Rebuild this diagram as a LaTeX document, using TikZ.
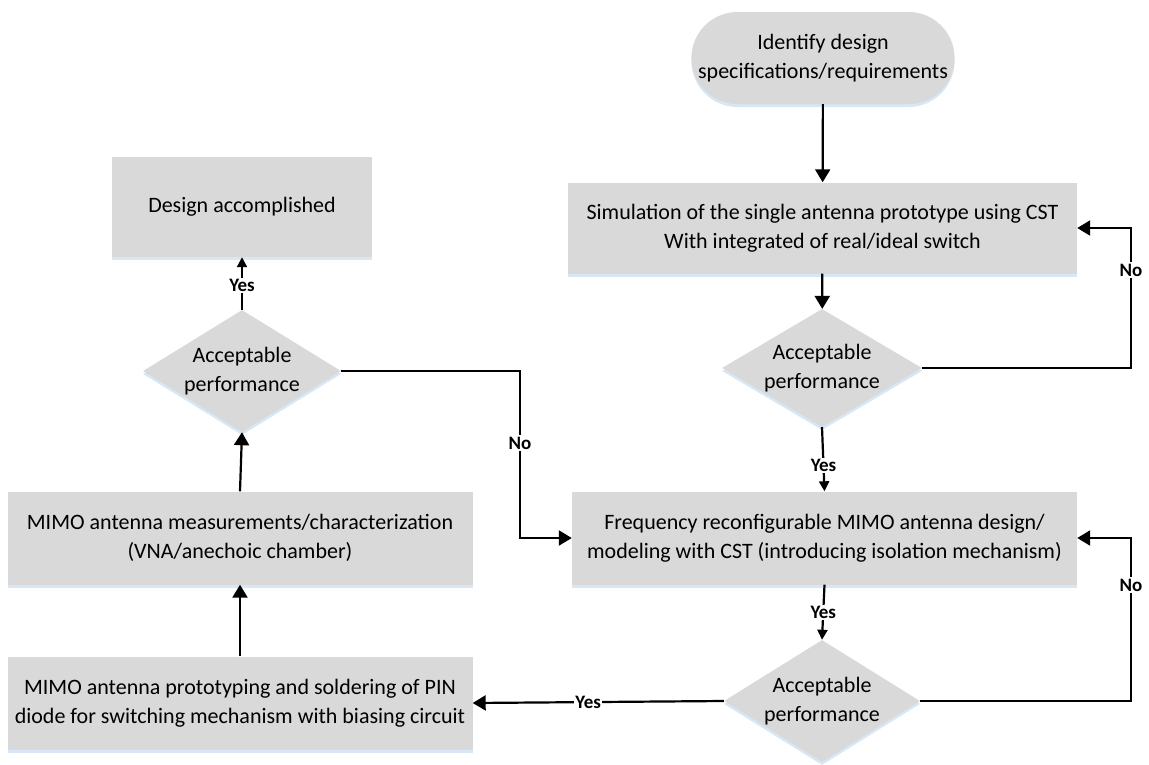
\documentclass[tikz,border=0pt]{standalone}
\usepackage{fontspec}
\setmainfont{Carlito}
\usetikzlibrary{shapes.geometric,shapes.misc,arrows.meta,shadows}
\definecolor{boxgray}{HTML}{D9D9D9}
\definecolor{glow}{HTML}{BDD7EE}

\tikzset{
  softshadow/.style={drop shadow={shadow xshift=0pt, shadow yshift=-3pt, fill=glow, opacity=0.6}},
  stepbox/.style={rectangle, fill=boxgray, softshadow, align=center, inner sep=0pt,
    font=\fontsize{22}{29}\selectfont},
  terminal/.style={rounded rectangle, fill=boxgray, softshadow, align=center, inner sep=0pt,
    font=\fontsize{22}{29}\selectfont},
  decision/.style={diamond, fill=boxgray, softshadow, align=center, inner sep=-18pt,
    font=\fontsize{22}{29}\selectfont},
  flow/.style={line width=2.2pt, -{Triangle[width=15pt,length=13pt]}},
  flowsmall/.style={line width=2.2pt, -{Triangle[width=10pt,length=10pt]}},
  lbl/.style={fill=white, inner sep=1.5pt, font=\fontsize{19}{21}\selectfont\bfseries},
}

\begin{document}
\begin{tikzpicture}[x=1pt,y=-1pt]
\useasboundingbox (0,0) rectangle (1149,764);

% right column
\node[terminal, minimum width=260pt, minimum height=92pt] (start) at (823,58)
  {Identify design\\specifications/requirements};
\node[stepbox, minimum width=509pt, minimum height=91pt] (sim) at (822.5,228)
  {Simulation of the single antenna prototype using CST\\With integrated of real/ideal switch};
\node[decision, minimum width=200pt, minimum height=118pt] (dec1) at (822,368)
  {Acceptable\\performance};
\node[stepbox, minimum width=505pt, minimum height=93pt] (freq) at (824.5,538)
  {Frequency reconfigurable MIMO antenna design/\\modeling with CST (introducing isolation mechanism)};
\node[decision, minimum width=196pt, minimum height=122pt] (dec3) at (822,701)
  {Acceptable\\performance};

% left column
\node[stepbox, minimum width=260pt, minimum height=100pt] (done) at (242,207)
  {Design accomplished};
\node[decision, minimum width=198pt, minimum height=122pt] (dec2) at (242,371)
  {Acceptable\\performance};
\node[stepbox, minimum width=465pt, minimum height=93pt] (meas) at (240,538)
  {MIMO antenna measurements/characterization\\(VNA/anechoic chamber)};
\node[stepbox, minimum width=465pt, minimum height=93pt] (proto) at (240,703)
  {MIMO antenna prototyping and soldering of PIN\\diode for switching mechanism with biasing circuit};

% bends of the feedback loops
\coordinate (nTop) at (1131,270);
\coordinate (nMid) at (520,443);
\coordinate (nBot) at (1131,585);

% main flow
\draw[flow] (start) -- (sim);
\draw[flow] (sim) -- (dec1);
\draw[flowsmall] (dec1.south) -- node[lbl, pos=0.6] {Yes} (freq.north);
\draw[flowsmall] (freq.south) -- node[lbl, pos=0.5] {Yes} (dec3.north);
\draw[flow] (dec3.west) -- node[lbl, pos=0.54] {Yes} (proto.east);
\draw[flow] (proto.north) -- (meas.south);
\draw[flow] (meas.north) -- (dec2.south);
\draw[flowsmall] (dec2.north) -- node[lbl, pos=0.46] {Yes} (done.south);

% feedback loops
\draw[flow] (dec1.east) -| (nTop) |- (sim.east);
\node[lbl] at (nTop) {No};
\draw[flow] (dec2.east) -| (nMid) |- (freq.west);
\node[lbl] at (nMid) {No};
\draw[flow] (dec3.east) -| (nBot) |- (freq.east);
\node[lbl] at (nBot) {No};
\end{tikzpicture}
\end{document}
